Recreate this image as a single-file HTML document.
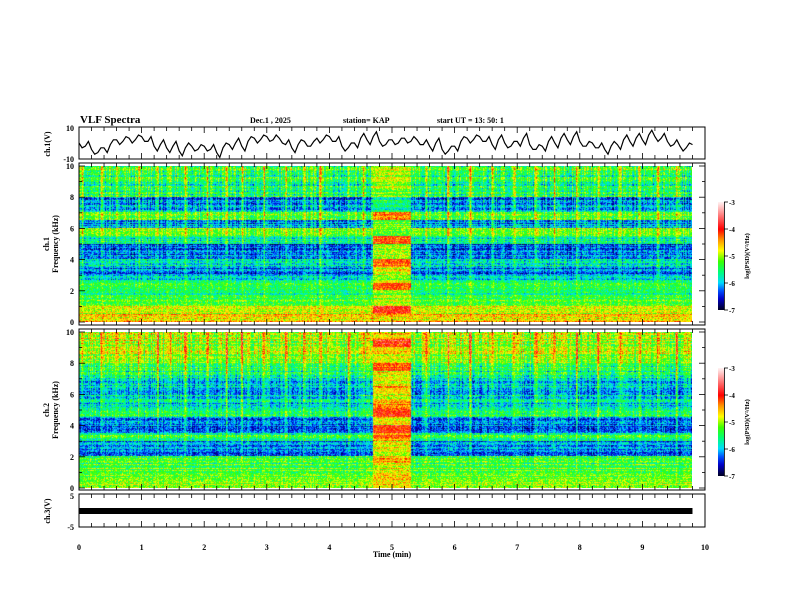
<!DOCTYPE html>
<html><head><meta charset="utf-8">
<style>
html,body{margin:0;padding:0;background:#fff;}
#wrap{position:relative;width:792px;height:612px;overflow:hidden;font-family:"Liberation Serif",serif;}
canvas{position:absolute;}
svg{position:absolute;left:0;top:0;}
text{font-family:"Liberation Serif",serif;font-weight:bold;fill:#000;}
</style></head>
<body>
<div id="wrap">
<canvas id="spec1" width="613" height="156" style="left:79px;top:166px;width:613px;height:156px"></canvas>
<canvas id="spec2" width="613" height="156" style="left:79px;top:332px;width:613px;height:156px"></canvas>
<canvas id="cbar1" width="6" height="108" style="left:718px;top:202px;width:6px;height:108px"></canvas>
<canvas id="cbar2" width="6" height="108" style="left:718px;top:368px;width:6px;height:108px"></canvas>
<svg id="svg" width="792" height="612" xmlns="http://www.w3.org/2000/svg"></svg>
</div>
<script>
// ---------- data ----------
const timeTicks = [0,1,2,3,4,5,6,7,8,9,10];
const freqTicks = [0,2,4,6,8,10];
const cbarTicks = [-3,-4,-5,-6,-7];
// ch1 waveform (V), one value per 0.05 min, 0..9.8 min
const ch1Values = [0,-3,-2,1,-4,-7,-6,-3,-3,-6,-1,2,2,-1,1,4,3,0,2,5,
4,1,1,4,-2,-5,-1,2,-3,-6,-2,1,-5,-8,-3,0,-2,-5,-4,-1,
-2,-5,-4,-1,-6,-9,-3,0,-1,-4,0,3,-2,-5,1,4,3,0,2,5,
4,1,2,5,3,0,-1,2,-3,-6,-1,2,1,-2,-2,1,3,0,2,5,
4,1,1,4,-2,-5,-3,0,0,-3,3,6,2,-1,4,7,1,-2,-1,2,
2,-1,0,3,3,0,1,4,2,-1,-1,2,-2,-5,0,3,-4,-7,-5,-2,
-2,-5,1,4,3,0,2,5,4,1,1,4,-1,-4,2,5,0,-3,-2,1,
1,-2,3,6,-1,-4,-4,-1,-2,-5,1,4,0,-3,3,6,2,-1,4,7,
1,-2,-2,1,0,-3,-3,0,-4,-7,-2,1,-1,-4,2,5,1,-2,3,6,
2,-1,5,8,4,1,3,6,1,-2,-1,2,-2,-5,-3,0,-1];
// band levels log(PSD) per 0.5 kHz band from 0 to 10 kHz
const ch1Bands = [-4.6,-4.9,-5.3,-5.5,-5.4,-5.8,-6.2,-5.8,-6.2,-6.3,-5.6,-5.1,-6.1,-5.3,-6.0,-6.2,-5.5,-5.6,-5.5,-5.3];
const ch1BurstBands = [-4.6,-4.0,-5.0,-5.0,-4.2,-5.0,-4.8,-4.2,-5.0,-5.0,-4.1,-5.2,-5.2,-4.4,-5.6,-5.6,-5.2,-5.0,-5.0,-4.9];
const ch2Bands = [-5.0,-5.3,-5.3,-5.4,-6.2,-6.2,-5.5,-6.3,-6.3,-5.6,-5.9,-5.9,-6.0,-6.0,-5.6,-5.5,-5.1,-5.0,-5.0,-4.9];
const ch2BurstBands = [-4.6,-4.7,-4.8,-4.6,-4.8,-4.8,-4.3,-4.0,-4.8,-4.1,-4.4,-4.8,-4.5,-4.8,-4.8,-4.2,-4.8,-4.7,-3.9,-4.6];
const burstStart = 4.7, burstEnd = 5.3;
const spikeTimes = [0.05,0.35,0.6,0.95,1.25,1.45,1.7,2.05,2.35,2.6,2.95,3.3,3.6,3.85,4.3,4.55,5.55,5.9,6.25,6.6,6.95,7.3,7.6,7.95,8.3,8.65,8.95,9.25,9.55];
const ch3Level = 0;

// ---------- axes ----------
const X0=79, X1=705;
const xs = t => X0 + (X1-X0)*t/10;
const yf1 = f => 322 - 156*f/10;
const yf2 = f => 488 - 156*f/10;
const yv1 = v => 143 - 16*v/10;
const yv3 = v => 511 - 15.5*v/5;

function hn(a,b){let h=(a*374761393+b*668265263)>>>0;h=(h^(h>>>13))*1274126177>>>0;return ((h^(h>>>16))>>>0)/4294967296;}

function cmap(v){
 const st=[[-7,[0,0,40]],[-6.6,[0,0,200]],[-6.3,[0,80,255]],[-6.0,[0,220,255]],[-5.6,[0,255,120]],[-5.2,[60,255,0]],[-4.8,[255,255,0]],[-4.4,[255,150,0]],[-4.0,[255,0,0]],[-3.5,[255,120,120]],[-3,[255,240,240]]];
 if(v<=-7)return st[0][1]; if(v>=-3)return st[st.length-1][1];
 for(let i=0;i<st.length-1;i++){if(v<=st[i+1][0]){const a=st[i],b=st[i+1],t=(v-a[0])/(b[0]-a[0]);return a[1].map((c,k)=>Math.round(c+(b[1][k]-c)*t));}}
}
function bandAt(arr,f){const i=Math.min(19,Math.max(0,Math.floor(f/0.5)));return arr[i];}

function drawSpec(id,bands,burst,seed){
 const cv=document.getElementById(id),ctx=cv.getContext('2d');
 const W=cv.width,H=cv.height,img=ctx.createImageData(W,H);
 for(let c=0;c<W;c++){
  const t=c/W*9.8;
  const inB=t>=burstStart&&t<=burstEnd;
  let sp=0; for(const s of spikeTimes){const d=Math.abs(t-s);if(d<0.03)sp=Math.max(sp,1.1*(1-d/0.03));}
  const colN=(hn(c,seed)-0.5)*0.6;
  for(let r=0;r<H;r++){
   const f=(H-1-r)/H*10;
   let v=bandAt(inB?burst:bands,f);
   v+=(hn(r,seed+7)-0.5)*0.6;
   if(!inB){v+=colN*(0.4+f/10); v+=sp*(f/10); }
   v+=(hn(c*131+r,seed+3)-0.5)*0.8;
   const col=cmap(v),k=(r*W+c)*4;
   img.data[k]=col[0];img.data[k+1]=col[1];img.data[k+2]=col[2];img.data[k+3]=255;
  }
 }
 ctx.putImageData(img,0,0);
}
drawSpec('spec1',ch1Bands,ch1BurstBands,11);
drawSpec('spec2',ch2Bands,ch2BurstBands,29);
['cbar1','cbar2'].forEach(id=>{const cv=document.getElementById(id),ctx=cv.getContext('2d');
 for(let r=0;r<cv.height;r++){const c=cmap(-3-4*r/(cv.height-1));ctx.fillStyle=`rgb(${c})`;ctx.fillRect(0,r,6,1);}});

// ---------- svg ----------
const svg=document.getElementById('svg'),NS='http://www.w3.org/2000/svg';
function el(tag,attrs,parent){const e=document.createElementNS(NS,tag);for(const k in attrs)e.setAttribute(k,attrs[k]);(parent||svg).appendChild(e);return e;}
function txt(x,y,s,size,anchor,name,rot){const e=el('text',{x:x,y:y,'font-size':size,'text-anchor':anchor||'start'});if(rot)e.setAttribute('transform',`rotate(-90 ${x} ${y})`);e.textContent=s;

return e;}

txt(80,123,'VLF Spectra',11,'start','figure-title');
txt(250,123,'Dec.1 , 2025',8,'start','date-label');
txt(343,123,'station= KAP',8,'start','station-label');
txt(437,123,'start  UT =   13: 50: 1',8,'start','start-time-label');

const panels=[{top:127,bot:159,name:'ch1-panel'},{top:163,bot:325,name:'spec1-panel'},{top:329,bot:490,name:'spec2-panel'},{top:494,bot:527,name:'ch3-panel'}];
panels.forEach(p=>{
 const r=el('rect',{x:X0,y:p.top,width:X1-X0,height:p.bot-p.top,fill:'none',stroke:'#000','stroke-width':1});
 
 
 for(let i=0;i<=50;i++){const t=i*0.2,x=xs(t),len=(i%5===0)?6:4;
  el('line',{x1:x,x2:x,y1:p.top,y2:p.top+len,stroke:'#000','stroke-width':0.8});
  el('line',{x1:x,x2:x,y1:p.bot,y2:p.bot-len,stroke:'#000','stroke-width':0.8});}
});

let pts=ch1Values.map((v,i)=>`${xs(i*0.05).toFixed(1)},${yv1(v).toFixed(1)}`).join(' ');
const wl=el('polyline',{points:pts,fill:'none',stroke:'#000','stroke-width':1.2});


txt(74,131,'10',8,'end','ch1-ytick-10');txt(74,162,'-10',8,'end','ch1-ytick-neg10');
txt(50,144,'ch.1(V)',8,'middle','ch1-y-title',true);

[[yf1,'ch.1','spec1'],[yf2,'ch.2','spec2']].forEach(([yf,ch,n])=>{
 freqTicks.forEach(f=>{txt(74,yf(f)+3,String(f),8,'end',n+'-ytick-'+f);});
 for(let f=0;f<=10;f++){const y=yf(f),len=f%2===0?6:3;
  el('line',{x1:X0,x2:X0+len,y1:y,y2:y,stroke:'#000','stroke-width':0.8});
  el('line',{x1:X1,x2:X1-len,y1:y,y2:y,stroke:'#000','stroke-width':0.8});}
 const mid=yf(5);
 txt(49,mid,ch,8,'middle',n+'-channel-label',true);
 txt(58,mid,'Frequency  (kHz)',8,'middle',n+'-y-title',true);
});

[[202,'cbar1'],[368,'cbar2']].forEach(([top,n])=>{
 el('line',{x1:724.5,x2:724.5,y1:top,y2:top+108,stroke:'#000','stroke-width':0.8});
 cbarTicks.forEach((v,i)=>{const y=top+27*i;el('line',{x1:724,x2:728,y1:y,y2:y,stroke:'#000','stroke-width':0.8});
  txt(729,y+3,String(v),7,'start',n+'-tick-'+i);});
 txt(749,top+54,'log(PSD)(V²/Hz)',6.5,'middle',n+'-title',true);
});

const b=el('rect',{x:X0,y:yv3(ch3Level)-3,width:xs(9.8)-X0,height:6,fill:'#000'});


txt(74,499,'5',8,'end','ch3-ytick-5');txt(74,530,'-5',8,'end','ch3-ytick-neg5');
txt(50,511,'ch.3(V)',8,'middle','ch3-y-title',true);

timeTicks.forEach(t=>txt(xs(t),550,String(t),8,'middle','xtick-'+t));
txt(392,557,'Time  (min)',8,'middle','x-axis-title');
</script>
</body></html>
